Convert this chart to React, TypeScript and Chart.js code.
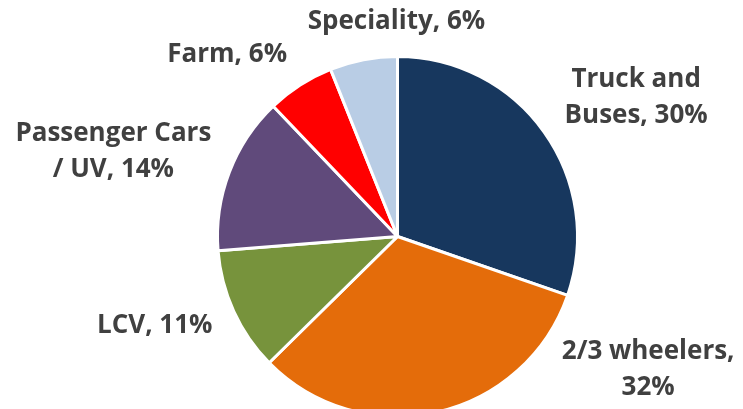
import { useEffect, useRef } from "react";
import { Chart, registerables } from "chart.js";

Chart.register(...registerables);

const categories = ["Truck and Buses", "2/3 wheelers", "LCV", "Passenger Cars / UV", "Farm", "Speciality"];
const shares = [30, 32, 11, 14, 6, 6];
const colors = ["#17375E", "#E46C0A", "#77933C", "#604A7B", "#FF0000", "#B9CDE5"];

function wrapText(ctx: CanvasRenderingContext2D, text: string, maxW: number): string[] {
  const words = text.split(" ");
  const lines: string[] = [];
  let cur = "";
  for (const w of words) {
    const test = cur ? cur + " " + w : w;
    if (cur && ctx.measureText(test).width > maxW) {
      lines.push(cur);
      cur = w;
    } else {
      cur = test;
    }
  }
  if (cur) lines.push(cur);
  return lines;
}

const outLabels = {
  id: "outLabels",
  afterDatasetsDraw(chart: any, _args: any, opts: any) {
    const ctx: CanvasRenderingContext2D = chart.ctx;
    const meta = chart.getDatasetMeta(0);
    ctx.save();
    ctx.font = opts.font;
    ctx.fillStyle = opts.color;
    ctx.textAlign = "center";
    ctx.textBaseline = "middle";
    meta.data.forEach((arc: any, i: number) => {
      const { x, y, startAngle, endAngle, outerRadius } = arc.getProps(
        ["x", "y", "startAngle", "endAngle", "outerRadius"],
        true
      );
      const mid = (startAngle + endAngle) / 2;
      const ex = x + Math.cos(mid) * outerRadius;
      const ey = y + Math.sin(mid) * outerRadius;
      const [dx, dy] = opts.offsets[i];
      const text = `${chart.data.labels[i]}, ${chart.data.datasets[0].data[i]}%`;
      const lines = wrapText(ctx, text, opts.wrap[i]);
      const cx = ex + dx;
      const cy = ey + dy;
      lines.forEach((ln, k) => {
        ctx.fillText(ln, cx, cy + (k - (lines.length - 1) / 2) * opts.lineHeight);
      });
    });
    ctx.restore();
  },
};

export default function App() {
  const ref = useRef<HTMLCanvasElement | null>(null);
  useEffect(() => {
    if (!ref.current) return;
    const chart = new Chart(ref.current, {
      type: "pie",
      data: {
        labels: categories,
        datasets: [
          {
            data: shares,
            backgroundColor: colors,
            borderColor: "#FFFFFF",
            borderWidth: 3,
          },
        ],
      },
      options: {
        animation: false,
        responsive: true,
        maintainAspectRatio: false,
        layout: { padding: { left: 216, right: 164, top: 55, bottom: 2 } },
        plugins: {
          legend: { display: false },
          tooltip: { enabled: false },
          outLabels: {
            font: "bold 26px 'Open Sans'",
            color: "#404040",
            lineHeight: 36,
            wrap: [170, 210, 400, 210, 400, 400],
            offsets: [
              [92, -34],
              [211, -42],
              [-79, 14],
              [-116, -21],
              [-73, -30],
              [33, -38],
            ],
          },
        } as any,
      },
      plugins: [outLabels],
    });
    return () => chart.destroy();
  }, []);
  return (
    <div style={{ position: "fixed", left: 0, top: 0, width: 743, height: 409, overflow: "hidden", background: "#fff" }}>
      <div style={{ position: "relative", width: 743, height: 420 }}>
        <canvas ref={ref} />
      </div>
    </div>
  );
}
